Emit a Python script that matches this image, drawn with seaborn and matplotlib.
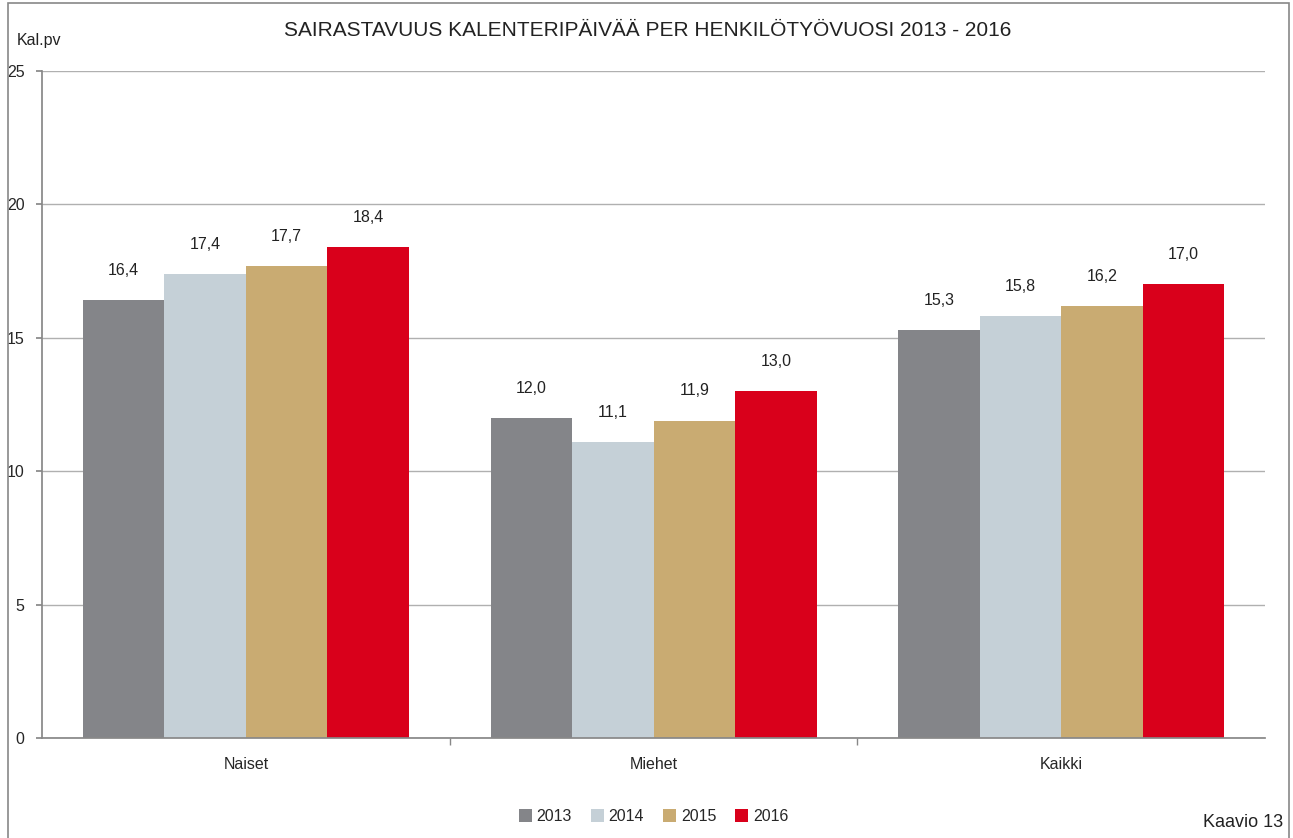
import numpy as np
import pandas as pd
import matplotlib
matplotlib.use("Agg")
import matplotlib.pyplot as plt
from matplotlib.patches import Rectangle
import seaborn as sns

# data
groups = ["Naiset", "Miehet", "Kaikki"]
years = ["2013", "2014", "2015", "2016"]
v2013 = [16.4, 12.0, 15.3]
v2014 = [17.4, 11.1, 15.8]
v2015 = [17.7, 11.9, 16.2]
v2016 = [18.4, 13.0, 17.0]
colors = ["#848589", "#c5d0d7", "#c9ab72", "#d9001b"]

df = pd.DataFrame({"ryhma": groups * 4,
                   "vuosi": np.repeat(years, 3),
                   "arvo": v2013 + v2014 + v2015 + v2016})

sns.set_theme(style="white")
plt.rcParams["font.family"] = ["Liberation Sans Narrow", "Liberation Sans", "DejaVu Sans"]

fig = plt.figure(figsize=(12.93, 8.38), dpi=100)
ax = fig.add_axes([0.0325, 0.1193, 0.946, 0.796])

sns.barplot(data=df, x="ryhma", y="arvo", hue="vuosi", palette=colors,
            width=0.8, saturation=1, linewidth=0, ax=ax, legend=True)

# value labels
for cont in ax.containers:
    ax.bar_label(cont, labels=[f"{v:.1f}".replace(".", ",") for v in cont.datavalues],
                 padding=16, fontsize=11.5, color="#222222")

ax.set_ylim(0, 25)
ax.set_xlim(-0.5, 2.5)
ax.set_yticks([0, 5, 10, 15, 20, 25])
ax.yaxis.grid(True, color="#b0b0b0", linewidth=1)
ax.set_axisbelow(True)
ax.set_xlabel("")
ax.set_ylabel("")
for s in ["top", "right"]:
    ax.spines[s].set_visible(False)
ax.spines["left"].set_color("#888888")
ax.spines["bottom"].set_color("#888888")
ax.tick_params(axis="y", left=True, length=4, color="#888888", labelsize=11.5, pad=8.5)
ax.tick_params(axis="x", bottom=False, labelsize=11.5, pad=8)
# category boundary ticks
ax.set_xticks([0.5, 1.5], minor=True)
ax.tick_params(axis="x", which="minor", bottom=True, length=5, color="#888888")

leg = ax.legend(loc="upper center", bbox_to_anchor=(0.5, -0.085), ncol=4, frameon=False,
                fontsize=11.5, handlelength=0.8, handleheight=0.8, handletextpad=0.3,
                columnspacing=1.2)

fig.text(0.501, 0.964, "SAIRASTAVUUS KALENTERIPÄIVÄÄ PER HENKILÖTYÖVUOSI 2013 - 2016",
         ha="center", va="center", fontsize=15, color="#222222")
fig.text(0.013, 0.952, "Kal.pv", ha="left", va="center", fontsize=11.5, color="#222222")
fig.text(0.992, 0.019, "Kaavio 13", ha="right", va="center", fontsize=13, color="#222222")

fig.patches.append(Rectangle((0.006, -0.01), 0.991, 1.006, transform=fig.transFigure,
                             fill=False, edgecolor="#888888", linewidth=1.2))

fig.savefig("out.png", dpi=100, facecolor="white")
